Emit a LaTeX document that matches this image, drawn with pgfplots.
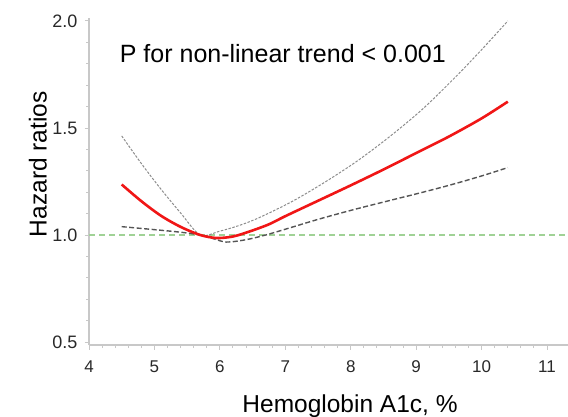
\documentclass[border=0pt]{standalone}
\usepackage{pgfplots}
\pgfplotsset{compat=1.18}
\usepackage{fontspec}
\setmainfont{Liberation Sans}
\definecolor{hrred}{RGB}{240,22,22}
\definecolor{ciup}{RGB}{140,140,140}
\definecolor{cilow}{RGB}{85,85,85}
\definecolor{refgreen}{RGB}{160,210,150}
\definecolor{axgray}{RGB}{200,200,200}
\definecolor{ticktext}{RGB}{40,40,40}

\begin{document}
\begin{tikzpicture}
\useasboundingbox (0,0) rectangle (568pt,416pt);
\begin{axis}[
    at={(89pt,71pt)}, anchor=south west,
    scale only axis, width=479pt, height=327pt,
    xmin=4, xmax=11.32,
    ymin=0.486, ymax=2.014,
    axis lines=left,
    axis line style={-, axgray, line width=1.1pt},
    xtick={4,5,6,7,8,9,10,11},
    ytick={0.5,1.0,1.5,2.0},
    minor tick num=4,
    tick align=outside,
    major tick length=4.5pt,
    minor tick length=3pt,
    tick style={axgray, line width=1pt},
    every tick/.append style={axgray},
    yticklabel style={/pgf/number format/fixed, /pgf/number format/fixed zerofill,
        /pgf/number format/precision=1},
    /pgf/number format/assume math mode=true,
    xticklabel style={font=\fontsize{17}{19}\selectfont, text=ticktext, anchor=base, inner sep=0pt, yshift=-23pt},
    yticklabel style={font=\fontsize{18}{20}\selectfont, text=ticktext, anchor=east, inner sep=0pt, xshift=-7pt},
    xlabel={Hemoglobin A1c, \%},
    ylabel={Hazard ratios},
    xlabel style={font=\fontsize{24.5}{28}\selectfont, at={(axis description cs:0.545,-0.205)}, anchor=base, inner sep=0pt},
    ylabel style={font=\fontsize{24.5}{28}\selectfont, at={(axis description cs:-0.0883,0.553)}, anchor=base, inner sep=0pt},
    clip=false,
]
% reference line HR = 1
\addplot[refgreen, line width=1.3pt, dash pattern=on 6pt off 4pt] coordinates {(4,1) (11.32,1)};

% upper 95% CI
\addplot[ciup, line width=1pt, dash pattern=on 2.5pt off 1.5pt, smooth] coordinates {
 (4.5,1.463) (4.8,1.334) (5.1,1.214) (5.4,1.103) (5.7,1.000)
 (6.0,1.018) (6.3,1.045) (6.6,1.081) (7.1,1.156) (7.6,1.246) (8.1,1.346)
 (8.6,1.461) (9.1,1.589) (9.6,1.738) (10.0,1.866) (10.4,2.000)
};

% lower 95% CI
\addplot[cilow, line width=1.4pt, dash pattern=on 5pt off 2.5pt, smooth] coordinates {
 (4.5,1.039) (5.0,1.025) (5.4,1.013) (5.7,1.000) (5.9,0.983) (6.1,0.967)
 (6.4,0.978) (6.7,1.000) (7.0,1.027) (7.5,1.073) (8.0,1.115) (8.5,1.154)
 (9.0,1.192) (9.5,1.232) (10.0,1.276) (10.4,1.315)
};

% hazard ratio
\addplot[hrred, line width=2.6pt, smooth] coordinates {
 (4.5,1.236) (4.8,1.158) (5.1,1.090) (5.4,1.038) (5.7,1.000) (5.95,0.986)
 (6.2,0.993) (6.45,1.016) (6.75,1.050) (7.0,1.088) (7.5,1.160) (8.0,1.232)
 (8.5,1.306) (9.0,1.383) (9.5,1.460) (10.0,1.545) (10.4,1.623)
};

\node[anchor=base west, inner sep=0pt, font=\fontsize{25}{29}\selectfont]
    at (axis cs:4.469,1.808) {P for non-linear trend < 0.001};
\end{axis}
\end{tikzpicture}
\end{document}
